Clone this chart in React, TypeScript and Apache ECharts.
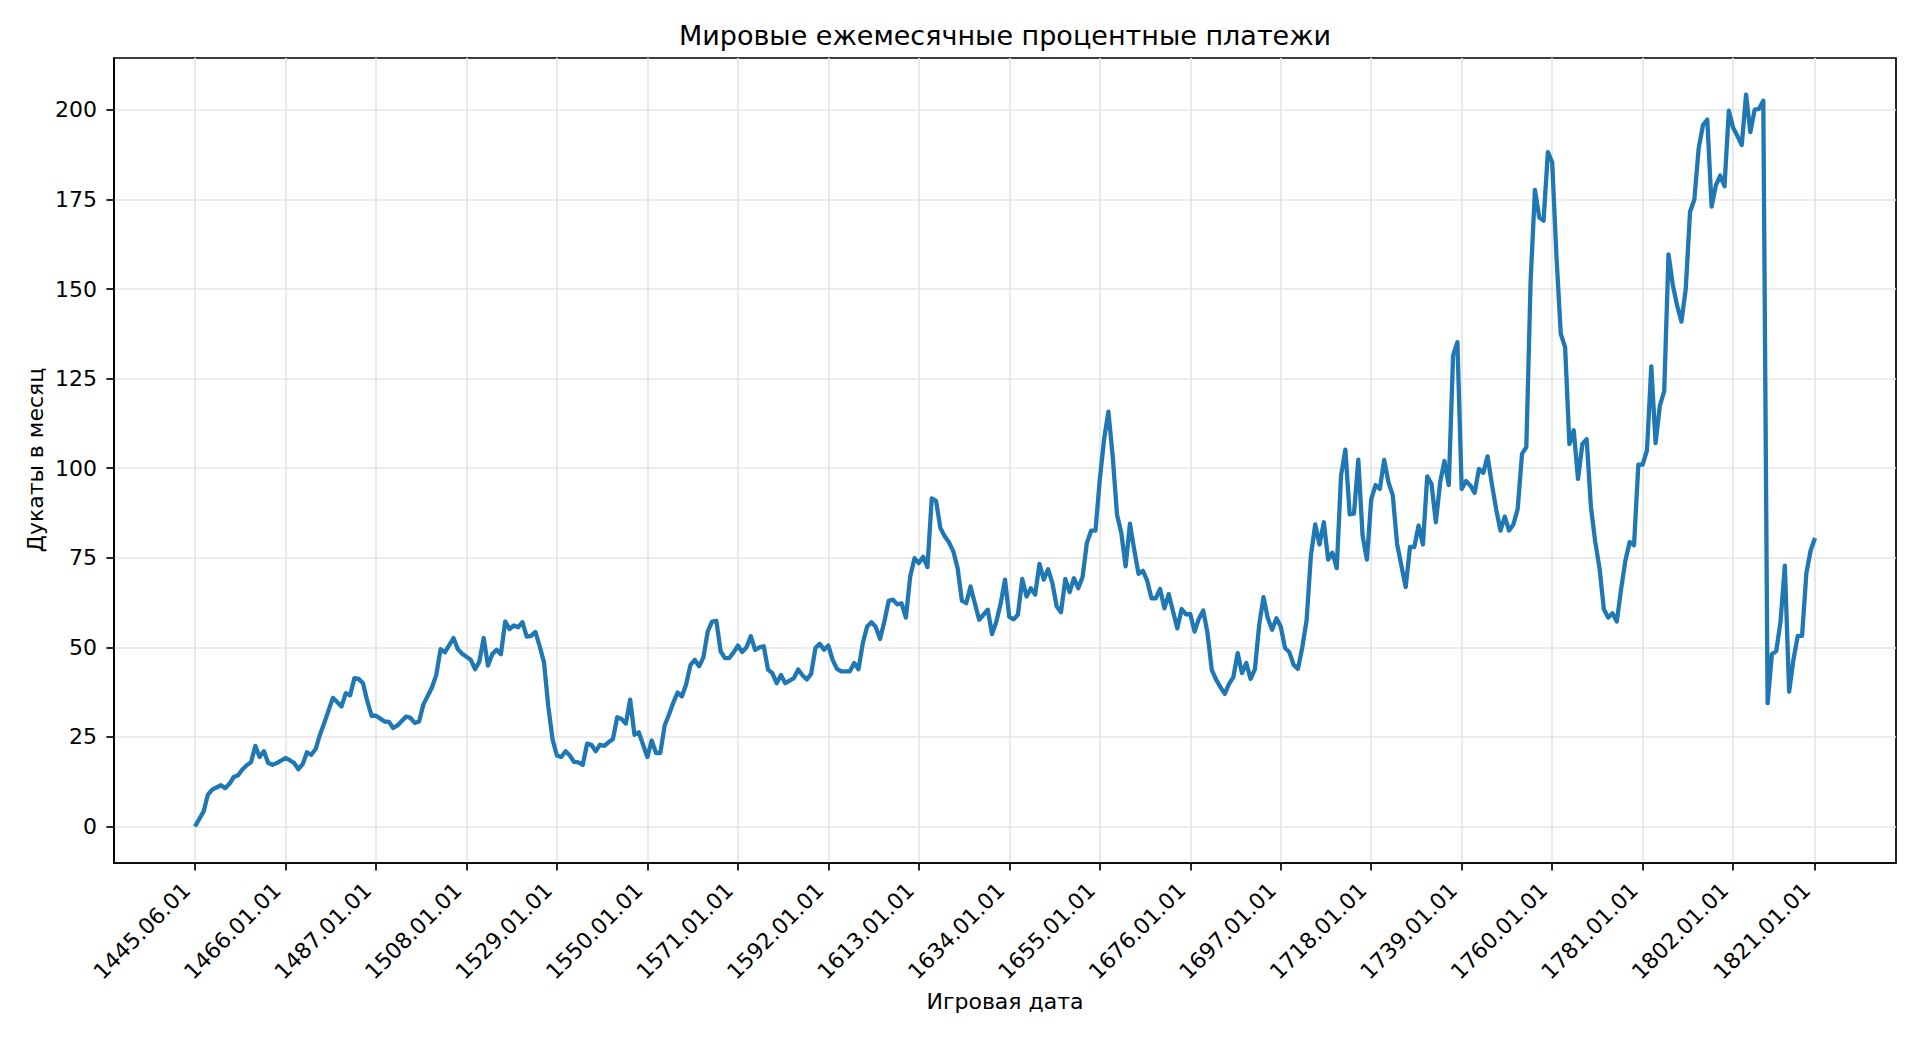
import React, { useEffect, useRef } from "react";
import * as echarts from "echarts";

// [year, ducats per month]; the first point is 1445.06.01, the rest are 01.01 of the year
const p1445: [number, number][] = [
  [1445, 0], [1447, 4.2], [1448, 8.9], [1449, 10.3], [1451, 11.5], [1452, 10.7], [1453, 11.9],
  [1454, 13.8], [1455, 14.3], [1456, 15.9], [1457, 17.1], [1458, 17.9], [1459, 22.5], [1460, 19.4],
  [1461, 21], [1462, 17.7], [1463, 17.2], [1464, 17.7], [1466, 19.1], [1467, 18.5], [1468, 17.7],
  [1469, 16], [1470, 17.4], [1471, 20.7], [1472, 20], [1473, 21.6], [1474, 25.6], [1475, 28.9],
  [1477, 35.9], [1479, 33.5], [1480, 37.2], [1481, 36.6], [1482, 41.4], [1483, 41.2], [1484, 40],
  [1485, 34.9], [1486, 30.9], [1487, 30.9], [1488, 30.1], [1489, 29.3], [1490, 29.2], [1491, 27.5],
  [1492, 28.2], [1494, 30.7], [1495, 30.3], [1496, 28.9], [1497, 29.3], [1498, 34], [1500, 38.8],
  [1501, 42.3], [1502, 49.5], [1503, 48.6], [1505, 52.6], [1506, 49.5], [1507, 48.2], [1509, 46.5],
];

const p1510: [number, number][] = [
  [1510, 43.9], [1511, 46], [1512, 52.6], [1513, 44.9], [1514, 48.1], [1515, 49.3], [1516, 48.1],
  [1517, 57.2], [1518, 55.1], [1519, 56.1], [1520, 55.6], [1521, 57], [1522, 53], [1523, 53.2],
  [1524, 54.3], [1525, 50.3], [1526, 45.8], [1527, 33.5], [1528, 24.2], [1529, 19.8], [1530, 19.4],
  [1531, 21], [1532, 19.8], [1533, 18], [1534, 17.9], [1535, 17.2], [1536, 23.1], [1537, 22.8],
  [1538, 21], [1539, 22.8], [1540, 22.5], [1541, 23.5], [1542, 24.4], [1543, 30.5], [1544, 30],
  [1545, 28.7], [1546, 35.4], [1547, 25.6], [1548, 26.3], [1549, 22.8], [1550, 19.4], [1551, 24],
  [1552, 20.5], [1553, 20.5], [1554, 28.1], [1555, 31.2], [1556, 34.5], [1557, 37.4], [1558, 36.3],
  [1559, 39.7], [1560, 45.1], [1561, 46.5], [1562, 44.7], [1563, 47.2], [1564, 54.4], [1565, 57.2],
  [1566, 57.4], [1567, 48.9], [1568, 47], [1569, 47], [1570, 48.6], [1571, 50.5], [1572, 48.7],
  [1573, 50], [1574, 53.1], [1575, 49.3], [1576, 50], [1577, 50.3], [1578, 43.8], [1579, 42.8],
  [1580, 40], [1581, 42.3], [1582, 40], [1583, 40.7], [1584, 41.4], [1585, 43.8], [1586, 42.2],
  [1587, 41], [1588, 42.6], [1589, 49.8], [1590, 51], [1591, 49.3], [1592, 50.5], [1593, 46.5],
  [1594, 44], [1595, 43.3], [1596, 43.3], [1597, 43.3], [1598, 45.6], [1599, 43.9],
];

const p1600: [number, number][] = [
  [1600, 51.2], [1601, 55.8], [1602, 57], [1603, 55.7], [1604, 52.3], [1605, 57.2], [1606, 63],
  [1607, 63.3], [1608, 62], [1609, 62.3], [1610, 58.3], [1611, 69.8], [1612, 74.9], [1613, 73.5],
  [1614, 75.3], [1615, 72.4], [1616, 91.6], [1617, 90.9], [1618, 83.3], [1619, 81], [1620, 79.3],
  [1621, 76.8], [1622, 72.1], [1623, 63], [1624, 62.3], [1625, 67], [1626, 62.3], [1627, 57.7],
  [1628, 59.1], [1629, 60.5], [1630, 53.7], [1631, 57.2], [1632, 62.3], [1633, 68.9], [1634, 58.5],
  [1635, 57.8], [1636, 59.1], [1637, 69.1], [1638, 64.2], [1639, 66.5], [1640, 64.7], [1641, 73.3],
  [1642, 68.9], [1643, 71.8], [1644, 67.9], [1645, 61.4], [1646, 59.8], [1647, 69.1], [1648, 65.4],
  [1649, 69.3], [1650, 66.5], [1651, 69.6], [1652, 79.1], [1653, 82.6], [1654, 82.6], [1655, 96.8],
  [1656, 108.1], [1657, 115.8], [1658, 103.3], [1659, 87], [1660, 81.9], [1661, 72.6], [1662, 84.5],
  [1663, 77.2], [1664, 70.5], [1665, 71.4], [1666, 68.6], [1667, 63.7], [1668, 63.7], [1669, 66.3],
  [1670, 60.9], [1671, 64.9], [1672, 60], [1673, 55.3], [1674, 60.7], [1675, 59.2], [1676, 59.3],
  [1677, 54.4], [1678, 58], [1679, 60.3], [1680, 54], [1681, 43.7], [1682, 41], [1683, 38.9],
  [1684, 37], [1685, 39.8], [1686, 41.7], [1687, 48.4], [1688, 42.8], [1689, 45.6], [1690, 41.2],
  [1691, 43.9], [1692, 56.3], [1693, 64], [1694, 58.1], [1695, 54.9], [1696, 58.1], [1697, 55.8],
  [1698, 49.8], [1699, 48.6],
];

const p1700: [number, number][] = [
  [1700, 45.1], [1701, 44], [1702, 50], [1703, 57.5], [1704, 75.6], [1705, 84.3], [1706, 78.7],
  [1707, 84.9], [1708, 74.5], [1709, 76.4], [1710, 72.1], [1711, 98], [1712, 105.2], [1713, 87.1],
  [1714, 87.3], [1715, 102.4], [1716, 81.2], [1717, 74.5], [1718, 91.3], [1719, 95.3], [1720, 94.2],
  [1721, 102.3], [1722, 96.1], [1723, 92.4], [1724, 78.9], [1725, 72.8], [1726, 66.8], [1727, 78],
  [1728, 78], [1729, 84], [1730, 78.7], [1731, 97.7], [1732, 95.6], [1733, 84.9], [1734, 96.1],
  [1735, 102], [1736, 95.3], [1737, 131.4], [1738, 135.2], [1739, 94.2], [1740, 96.4], [1741, 95.2],
  [1742, 93.1], [1743, 99.8], [1744, 98.7], [1745, 103.3], [1746, 95.6], [1747, 88.5], [1748, 82.6],
  [1749, 86.5], [1750, 82.6], [1751, 84.3], [1752, 88.7], [1753, 104], [1754, 105.9], [1755, 152.4],
  [1756, 177.7], [1757, 170], [1758, 169.1], [1759, 188.2], [1760, 185.4], [1761, 158.9],
  [1762, 137.5], [1763, 133.8], [1764, 106.7], [1765, 110.6], [1766, 97], [1767, 106.7],
  [1768, 108.1], [1769, 89.1], [1770, 79.4], [1771, 72], [1772, 60.6], [1773, 58.3], [1774, 59.5],
  [1775, 57.2], [1776, 66.3], [1777, 74.3], [1778, 79.4], [1779, 78.5], [1780, 101], [1781, 101],
  [1782, 105], [1783, 128.4], [1784, 107], [1785, 117.5], [1786, 121.5], [1787, 159.7],
  [1788, 151.1], [1789, 145.4], [1790, 140.9], [1791, 150], [1792, 171.6], [1793, 175],
  [1794, 189.3], [1795, 195.8], [1796, 197.3], [1797, 173], [1798, 179], [1799, 181.7],
];

const p1800: [number, number][] = [
  [1800, 178.7], [1801, 199.8], [1802, 195], [1803, 192.7], [1804, 190.2], [1805, 204.3],
  [1806, 193.8], [1807, 200.1], [1808, 200.3], [1809, 202.6], [1810, 34.4], [1811, 48.1],
  [1812, 48.9], [1813, 57.2], [1814, 72.8], [1815, 37.6], [1816, 46.6], [1817, 53.2], [1818, 53.2],
  [1819, 70.8], [1820, 77.1], [1821, 80.5],
];

const tickYears = [1445, 1466, 1487, 1508, 1529, 1550, 1571, 1592, 1613, 1634, 1655, 1676, 1697, 1718, 1739, 1760, 1781, 1802, 1821];
const tickLabels = [
  "1445.06.01", "1466.01.01", "1487.01.01", "1508.01.01", "1529.01.01", "1550.01.01", "1571.01.01",
  "1592.01.01", "1613.01.01", "1634.01.01", "1655.01.01", "1676.01.01", "1697.01.01", "1718.01.01",
  "1739.01.01", "1760.01.01", "1781.01.01", "1802.01.01", "1821.01.01",
];
const yTicks = [0, 25, 50, 75, 100, 125, 150, 175, 200];

const TITLE = "Мировые ежемесячные процентные платежи";
const X_NAME = "Игровая дата";
const Y_NAME = "Дукаты в месяц";

const FONT = "DejaVu Sans";

export default function App() {
  const ref = useRef<HTMLDivElement>(null);
  useEffect(() => {
    if (!ref.current) return;
    const chart = echarts.init(ref.current, null, { renderer: "svg" });
    const data = [...p1445, ...p1510, ...p1600, ...p1700, ...p1800];
    const gridLeft = 114;
    const gridRight = 24;
    const gridTop = 58;
    const gridBottom = 177;
    const axisCenterX = gridLeft + (1920 - gridLeft - gridRight) / 2;
    chart.setOption({
      animation: false,
      backgroundColor: "#ffffff",
      grid: {
        left: gridLeft,
        right: gridRight,
        top: gridTop,
        bottom: gridBottom,
        show: true,
        borderColor: "#000000",
        borderWidth: 1.7,
        backgroundColor: "transparent",
        containLabel: false,
        outerBoundsMode: "none",
      },
      xAxis: {
        type: "value",
        min: 1426.2,
        max: 1839.8,
        axisLine: { show: true, onZero: false, lineStyle: { color: "#000", width: 1.7 } },
        axisTick: {
          show: true,
          length: 7.6,
          customValues: tickYears,
          lineStyle: { color: "#000", width: 1.7 },
        },
        axisLabel: {
          customValues: tickYears,
          rotate: 45,
          margin: 15,
          padding: [0, 12, 0, 0],
          fontSize: 22,
          fontFamily: FONT,
          color: "#000",
          formatter: (v: number) => {
            const i = tickYears.indexOf(Math.round(v));
            return i >= 0 ? tickLabels[i] : "";
          },
        },
        splitLine: { show: true, lineStyle: { color: "#e6e6e6", width: 1.7 } },
      },
      yAxis: {
        type: "value",
        min: -10.2,
        max: 214.5,
        axisLine: { show: true, onZero: false, lineStyle: { color: "#000", width: 1.7 } },
        axisTick: {
          show: true,
          length: 7.6,
          customValues: yTicks,
          lineStyle: { color: "#000", width: 1.7 },
        },
        axisLabel: {
          customValues: yTicks,
          margin: 17,
          fontSize: 22,
          fontFamily: FONT,
          color: "#000",
        },
        splitLine: { show: true, lineStyle: { color: "#e6e6e6", width: 1.7 } },
      },
      series: [
        {
          type: "line",
          data,
          showSymbol: false,
          symbol: "none",
          clip: true,
          lineStyle: { color: "#1f77b4", width: 4.3, join: "round", cap: "butt" },
          emphasis: { disabled: true },
        },
      ],
      graphic: [
        {
          type: "text",
          x: axisCenterX,
          y: 35,
          style: {
            text: TITLE,
            fontSize: 27,
            fontFamily: FONT,
            fill: "#000",
            align: "center",
            verticalAlign: "middle",
          },
        },
        {
          type: "text",
          x: axisCenterX,
          y: 1001,
          style: {
            text: X_NAME,
            fontSize: 22,
            fontFamily: FONT,
            fill: "#000",
            align: "center",
            verticalAlign: "middle",
          },
        },
        {
          type: "text",
          x: 35,
          y: 460,
          rotation: Math.PI / 2,
          style: {
            text: Y_NAME,
            fontSize: 22,
            fontFamily: FONT,
            fill: "#000",
            align: "center",
            verticalAlign: "middle",
          },
        },
      ],
    });
    return () => chart.dispose();
  }, []);
  return (
    <div
      ref={ref}
      style={{ position: "absolute", left: 0, top: 0, width: 1920, height: 1040 }}
    />
  );
}
